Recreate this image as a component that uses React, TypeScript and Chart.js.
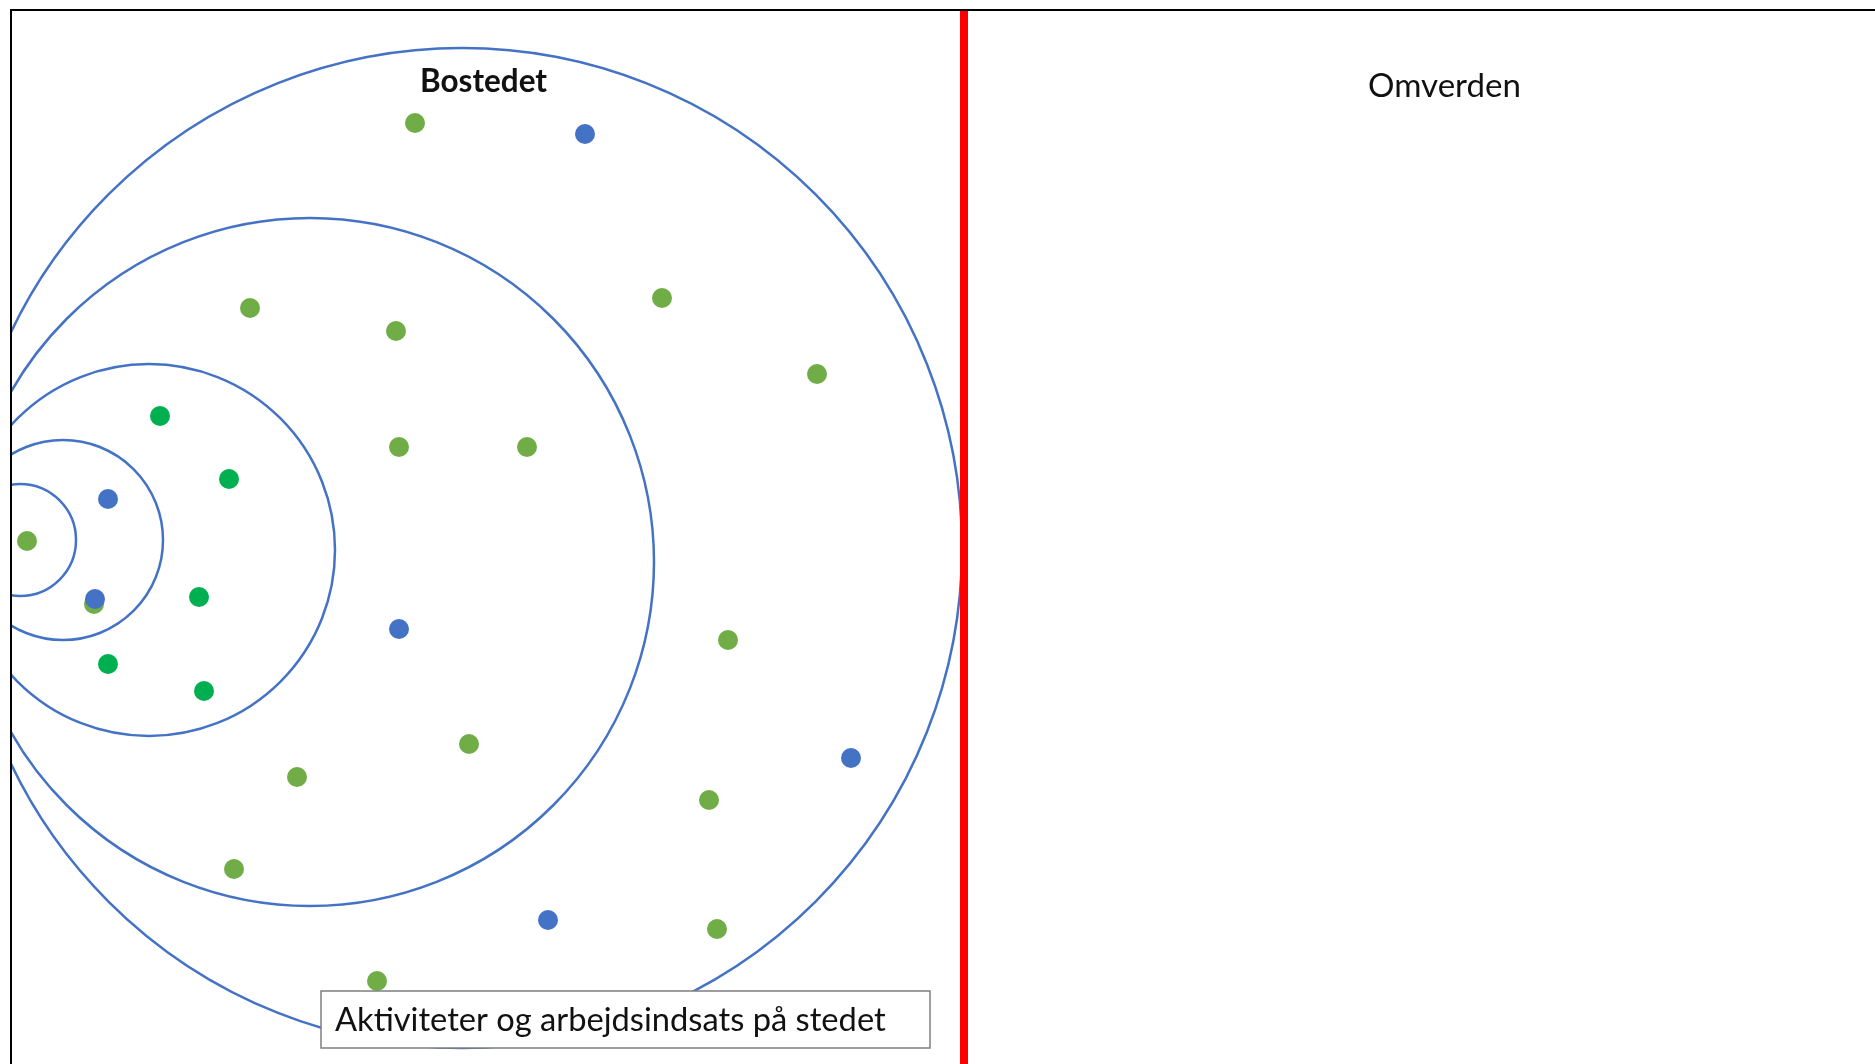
import React, { useEffect, useRef } from "react";
import { Chart, registerables } from "chart.js";

Chart.register(...registerables);

const W = 1875;
const H = 1064;

// Concentric "rings" of the place (centre x, centre y, radius) in diagram units
const ringX = [462, 310, 149, 63, 20];
const ringY = [548, 562, 550, 540, 540];
const ringR = [500, 344, 186, 100, 56];

// Dots (diagram units)
const lightGreenX = [415, 662, 817, 250, 396, 399, 527, 27, 94, 728, 469, 297, 709, 234, 717, 377];
const lightGreenY = [123, 298, 374, 308, 331, 447, 447, 541, 604, 640, 744, 777, 800, 869, 929, 981];
const blueX = [585, 108, 95, 399, 851, 548];
const blueY = [134, 499, 599, 629, 758, 920];
const greenX = [160, 229, 199, 108, 204];
const greenY = [416, 479, 597, 664, 691];

// Divider between the place and the outside world
const dividerX = 964;

// Labels
const titleLeft = "Bostedet";
const titleRight = "Omverden";
const boxLabel = "Aktiviteter og arbejdsindsats på stedet";

const BLUE = "#4472C4";
const LIGHT_GREEN = "#70AD47";
const GREEN = "#00B050";
const RED = "#FF0000";

function fitFont(ctx: CanvasRenderingContext2D, text: string, weight: string, target: number) {
  ctx.font = `${weight} 30px Lato`;
  const w = ctx.measureText(text).width;
  const size = (30 * target) / w;
  return `${weight} ${size.toFixed(2)}px Lato`;
}

const decor = {
  id: "decor",
  afterDatasetsDraw(chart: any) {
    const { ctx, chartArea, scales } = chart;
    const sx = scales.x;
    const sy = scales.y;
    ctx.save();
    // frame (top + left)
    ctx.strokeStyle = "#000";
    ctx.lineWidth = 2;
    ctx.beginPath();
    ctx.moveTo(chartArea.left, chartArea.bottom);
    ctx.lineTo(chartArea.left, chartArea.top);
    ctx.lineTo(chartArea.right, chartArea.top);
    ctx.stroke();

    ctx.fillStyle = "#111";
    ctx.textBaseline = "alphabetic";
    ctx.textAlign = "center";
    ctx.font = fitFont(ctx, titleLeft, "bold", 127);
    ctx.fillText(titleLeft, sx.getPixelForValue(483.5), sy.getPixelForValue(92));
    ctx.font = fitFont(ctx, titleRight, "normal", 153);
    ctx.fillText(titleRight, sx.getPixelForValue(1444.5), sy.getPixelForValue(97));

    // text box
    const bx0 = sx.getPixelForValue(321);
    const bx1 = sx.getPixelForValue(930);
    const by0 = sy.getPixelForValue(991);
    const by1 = sy.getPixelForValue(1048);
    ctx.fillStyle = "#fff";
    ctx.fillRect(bx0, by0, bx1 - bx0, by1 - by0);
    ctx.strokeStyle = "#7f7f7f";
    ctx.lineWidth = 1.5;
    ctx.strokeRect(bx0, by0, bx1 - bx0, by1 - by0);
    ctx.fillStyle = "#111";
    ctx.textAlign = "left";
    ctx.font = fitFont(ctx, boxLabel, "normal", 551);
    ctx.fillText(boxLabel, sx.getPixelForValue(335), sy.getPixelForValue(1031));
    ctx.restore();
  },
};

export default function App() {
  const ref = useRef<HTMLCanvasElement | null>(null);

  useEffect(() => {
    document.body.style.margin = "0";
    document.body.style.overflow = "hidden";
    const canvas = ref.current;
    if (!canvas) return;

    const rings = ringX.map((x, i) => ({ x, y: ringY[i], rr: ringR[i] }));
    const pts = (xs: number[], ys: number[]) => xs.map((x, i) => ({ x, y: ys[i] }));

    const chart = new Chart(canvas, {
      type: "scatter",
      data: {
        datasets: [
          {
            label: "rings",
            data: rings as any,
            order: 5,
            clip: 0 as any,
            pointRadius: (c: any) => {
              const s = c.chart.scales.x;
              const raw = c.raw;
              if (!s || !raw) return 0;
              return s.getPixelForValue(raw.x + raw.rr) - s.getPixelForValue(raw.x);
            },
            pointBackgroundColor: "rgba(0,0,0,0)",
            pointBorderColor: BLUE,
            pointBorderWidth: 2.5,
          } as any,
          {
            type: "line",
            label: "divider",
            data: [
              { x: dividerX, y: 10 },
              { x: dividerX, y: 1064 },
            ],
            order: 4,
            borderColor: RED,
            borderWidth: 8,
            pointRadius: 0,
            showLine: true,
            clip: 0 as any,
          } as any,
          {
            label: "light green",
            data: pts(lightGreenX, lightGreenY),
            order: 3,
            pointRadius: 10,
            pointBorderWidth: 0,
            pointBackgroundColor: LIGHT_GREEN,
            pointBorderColor: LIGHT_GREEN,
          },
          {
            label: "green",
            data: pts(greenX, greenY),
            order: 2,
            pointRadius: 10,
            pointBorderWidth: 0,
            pointBackgroundColor: GREEN,
            pointBorderColor: GREEN,
          },
          {
            label: "blue",
            data: pts(blueX, blueY),
            order: 1,
            pointRadius: 10,
            pointBorderWidth: 0,
            pointBackgroundColor: BLUE,
            pointBorderColor: BLUE,
          },
        ],
      },
      options: {
        animation: false,
        responsive: false,
        events: [],
        layout: { autoPadding: false, padding: { left: 11, top: 10, right: 0, bottom: 0 } },
        plugins: { legend: { display: false }, tooltip: { enabled: false } },
        scales: {
          x: { type: "linear", min: 11, max: 1875, display: false },
          y: { type: "linear", min: 10, max: 1064, reverse: true, display: false },
        },
      },
      plugins: [decor],
    } as any);

    return () => chart.destroy();
  }, []);

  return (
    <div style={{ width: W, height: H, background: "#fff" }}>
      <canvas ref={ref} width={W} height={H} style={{ display: "block" }} />
    </div>
  );
}
